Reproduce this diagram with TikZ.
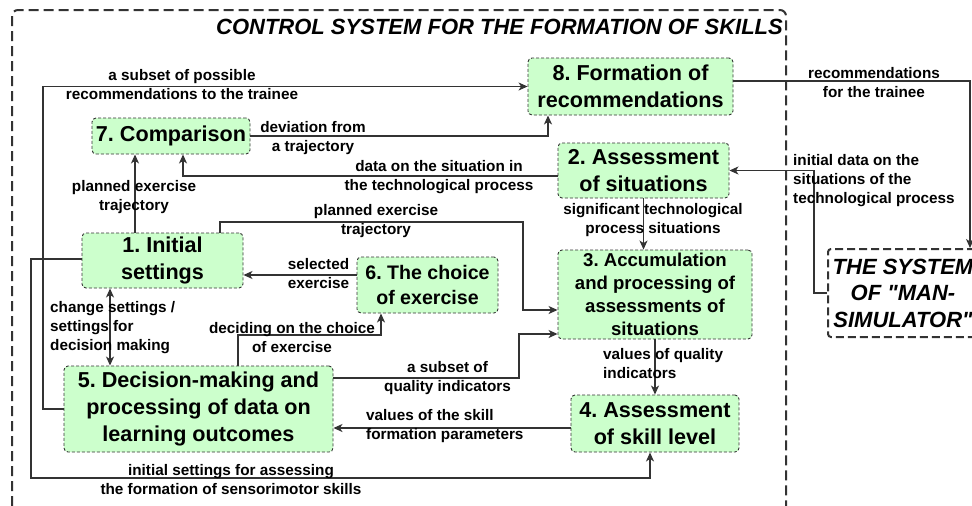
\documentclass[tikz,border=0pt]{standalone}
\usepackage{fontspec}
\setmainfont{Liberation Sans}
\newfontfamily\plainsans{Liberation Sans}
\usetikzlibrary{arrows.meta,calc}
\definecolor{boxfill}{HTML}{CCFFCC}
\definecolor{ln}{HTML}{333333}
\tikzset{
  blk/.style={draw=ln, dashed, dash pattern=on 3pt off 2pt, line width=0.9pt, fill=boxfill, rounded corners=4pt, inner sep=0pt, align=center, font=\fontsize{21.6}{27}\selectfont\bfseries},
  lbl/.style={inner sep=0pt, align=center, text=black, font=\fontsize{15.3}{19}\selectfont\bfseries},
  arr/.style={draw=ln, line width=1.2pt, -{Stealth[length=9pt,width=8pt,inset=2.5pt]}},
  arrb/.style={draw=ln, line width=1.2pt, {Stealth[length=9pt,width=8pt,inset=2.5pt]}-{Stealth[length=9pt,width=8pt,inset=2.5pt]}},
}
\begin{document}
\frenchspacing
\begin{tikzpicture}[x=1pt,y=-1pt]
\useasboundingbox (0,0) rectangle (972,506);
% outer frame
\draw[ln, line width=2pt, dash pattern=on 10pt off 5pt, rounded corners=6pt] (12,506) -- (12,10) -- (786,10) -- (786,506);
\node[anchor=east, inner sep=0pt, font=\fontsize{22}{26}\selectfont\bfseries\itshape] (title) at (783,27) {CONTROL SYSTEM FOR THE FORMATION OF SKILLS};

% blocks
\node[blk, minimum width=205pt, minimum height=57pt] (n8) at (630.5,86.5) {8. Formation of\\recommendations};
\node[blk, minimum width=158pt, minimum height=36pt] (n7) at (171,136) {7. Comparison};
\node[blk, minimum width=171pt, minimum height=55pt] (n2) at (643.5,170.5) {2. Assessment\\of situations};
\node[blk, minimum width=161pt, minimum height=55pt] (n1) at (162.5,260.5) {1. Initial\\settings};
\node[blk, minimum width=141pt, minimum height=56pt, font=\fontsize{19.6}{25}\selectfont\bfseries] (n6) at (427.5,285) {6. The choice\\of exercise};
\node[blk, minimum width=194pt, minimum height=89pt, font=\fontsize{18.6}{23}\selectfont\bfseries] (n3) at (655,294.5) {3. Accumulation\\and processing of\\assessments of\\situations};
\node[blk, minimum width=269pt, minimum height=86pt] (n5) at (198.5,409) {5. Decision-making and\\processing of data on\\learning outcomes};
\node[blk, minimum width=168pt, minimum height=57pt] (n4) at (655,423.5) {4. Assessment\\of skill level};
\node[draw=ln, line width=2pt, dash pattern=on 8pt off 4pt, rounded corners=3pt, fill=white, minimum width=150pt, minimum height=88pt, inner sep=0pt, align=center, font=\plainsans\fontsize{22}{26.5}\selectfont\bfseries\itshape] (ms) at (903,293) {THE SYSTEM\\OF "MAN-\\SIMULATOR"};

% connectors
\draw[arr] (n5.west) -- (43,0 |- n5.west) |- (n8.west);
\draw[arr] (n7.east) -| (548,0 |- n8.south);
\draw[arr] (n2.west |- 0,176) -| (183,0 |- n7.south);
\draw[arr] (n1.north -| 135,0) -- (n7.south -| 135,0);
\draw[arr] (n1.north -| 220,0) -- (220,222) -- (523,222) -- (523,310) -- (n3.west |- 0,310);
\draw[arr] (n2.south) -- (n3.north -| n2.south);
\draw[arr] (ms.west) -- (814,0 |- ms.west) |- (n2.east);
\draw[arr] (n8.east |- 0,81) -| (ms.north -| 970,0);
\draw[arr] (n6.west |- 0,275) -- (n1.east |- 0,275);
\draw[arrb] (n1.south -| 110,0) -- (n5.north -| 110,0);
\draw[arr] (n5.north -| 238,0) -- (238,335) -| (n6.south -| 381,0);
\draw[arr] (n5.east |- 0,378) -- (519,378) |- (n3.west |- 0,334);
\draw[arr] (n4.west |- 0,428) -- (n5.east |- 0,428);
\draw[arr] (n3.south) -- (n4.north);
\draw[arr] (n1.west |- 0,259) -- (31,259) |- (650,478) -- (n4.south -| 650,0);

% labels
\node[lbl] (l1) at (182,84.5) {a subset of possible\\recommendations to the trainee};
\node[lbl] (l2) at (313,138.5) {deviation from\\a trajectory};
\node[lbl] (l3) at (439,177.5) {data on the situation in\\the technological process};
\node[lbl] (l4) at (134,197.5) {planned exercise\\trajectory};
\node[lbl] (l5) at (376,221.5) {planned exercise\\trajectory};
\node[lbl] (l6) at (653,220) {significant technological\\process situations};
\node[lbl, anchor=west, align=left] (l7) at (793,181) {initial data on the\\situations of the\\technological process};
\node[lbl] (l8) at (874,82.5) {recommendations\\for the trainee};
\node[lbl] (l9) at (318.5,273.5) {selected\\exercise};
\node[lbl, anchor=west, align=left] (l10) at (50,327.5) {change settings /\\settings for\\decision making};
\node[lbl] (l11) at (292,337.5) {deciding on the choice\\of exercise};
\node[lbl] (l12) at (447.5,378.5) {a subset of\\quality indicators};
\node[lbl, anchor=west, align=left] (l13) at (366,426.5) {values of the skill\\formation parameters};
\node[lbl, anchor=west, align=left] (l14) at (603,364) {values of quality\\indicators};
\node[lbl] (l15) at (231,479.5) {initial settings for assessing\\the formation of sensorimotor skills};
\end{tikzpicture}
\end{document}
